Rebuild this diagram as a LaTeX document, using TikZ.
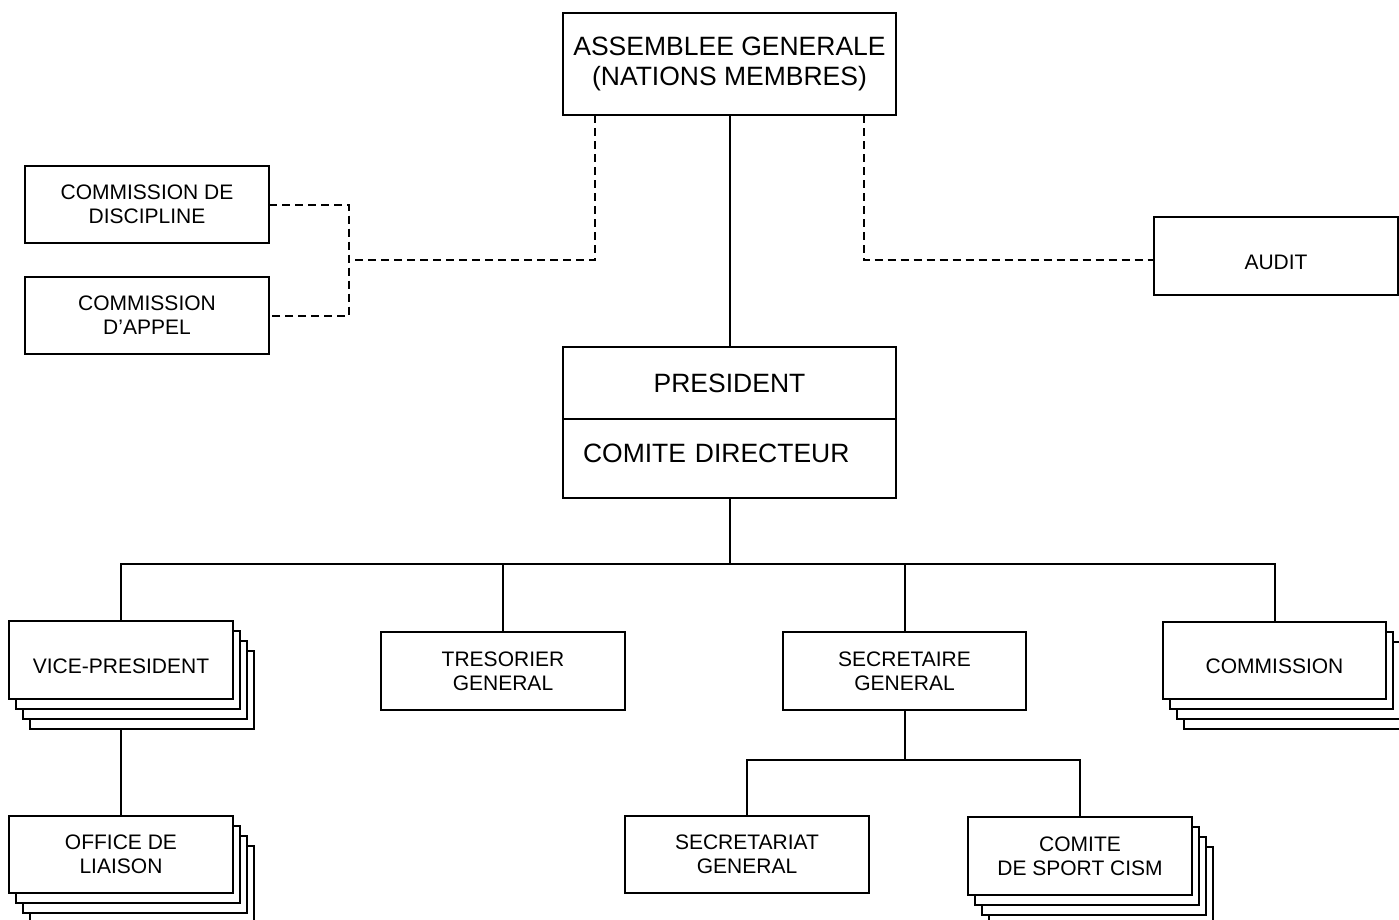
\documentclass[tikz,border=0pt]{standalone}
\usepackage{fontspec}
\setmainfont{Liberation Sans}
\usetikzlibrary{positioning,backgrounds}

\tikzset{
	box/.style={draw, line width=2pt, fill=white, inner sep=0pt, outer sep=0pt, align=center,
		font=\fontsize{21}{24}\selectfont, minimum width=244, minimum height=78},
	oneline/.style={text height=26pt, text depth=0pt},
	bigbox/.style={box, font=\fontsize{26.5}{29.5}\selectfont},
	link/.style={line width=2pt},
	dashlink/.style={line width=2pt, dash pattern=on 8pt off 5pt},
}

\begin{document}
\begin{tikzpicture}[x=1pt, y=-1pt]
	% Define levels of the lines
	\def\ydash{260}
	\def\ybus{564}
	\def\ysub{760}

	\useasboundingbox (0,0) rectangle (1399,919);

	% Top of the chart
	\node[bigbox, minimum width=333, minimum height=102] (ag) at (729.5,64) {ASSEMBLEE GENERALE\\(NATIONS MEMBRES)};
	\node[box, minimum height=77] (disc) at (147,204.5) {COMMISSION DE\\DISCIPLINE};
	\node[box, minimum height=77] (appel) at (147,315.5) {COMMISSION\\D’APPEL};
	\node[box, oneline] (audit) at (1276,256) {AUDIT};

	% President and comite directeur
	\node[bigbox, minimum width=333, minimum height=72] (pres) at (729.5,383) {PRESIDENT};
	\node[bigbox, below=0pt of pres, minimum height=79, inner xsep=20pt, text width=293pt, align=left,
		text height=19pt, text depth=12pt] (cd) {COMITE DIRECTEUR};

	% Second level
	\node[box, oneline, minimum width=224] (vp) at (121,660) {VICE-PRESIDENT};
	\node[box] (tres) at (503,671) {TRESORIER\\GENERAL};
	\node[box, minimum width=243] (sec) at (904.5,671) {SECRETAIRE\\GENERAL};
	\node[box, oneline, minimum width=223, minimum height=77] (comm) at (1274.5,660.5) {COMMISSION};

	% Third level
	\node[box, minimum width=224, minimum height=77] (office) at (121,854.5) {OFFICE DE\\LIAISON};
	\node[box, minimum height=77] (secr) at (747,854.5) {SECRETARIAT\\GENERAL};
	\node[box, minimum width=224] (sport) at (1080,856) {COMITE\\DE SPORT CISM};

	\coordinate (join) at (349,\ydash);
	\coordinate (bus) at (729.5,\ybus);
	\coordinate (subbus) at (904.5,\ysub);

	\begin{scope}[on background layer]
		% Dashed links
		\draw[dashlink] ([xshift=-135pt]ag.south) |- (join);
		\draw[dashlink] (disc.east) -| (join) |- (appel.east);
		\draw[dashlink] ([xshift=134pt]ag.south) |- ([yshift=-4pt]audit.west);

		% Solid links
		\draw[link] (ag) -- (pres);
		\draw[link] (cd.south) -- (bus);
		\draw[link] (vp.north) |- (comm.north |- bus) -- (comm.north);
		\foreach \n in {tres,sec}
			\draw[link] (\n.north) -- (\n.north |- bus);
		\draw[link] (vp) -- (office);
		\draw[link] (sec.south) -- (subbus);
		\draw[link] (secr.north) |- (sport.north |- subbus) -- (sport.north);

		% Stacked copies behind the boxes
		\foreach \n in {vp,comm,office,sport}
			\foreach \k in {3,2,1}
				\draw[link, fill=white] ([shift={(\k*7pt,-\k*10pt)}]\n.south west) rectangle ([shift={(\k*7pt,-\k*10pt)}]\n.north east);
	\end{scope}
\end{tikzpicture}
\end{document}
